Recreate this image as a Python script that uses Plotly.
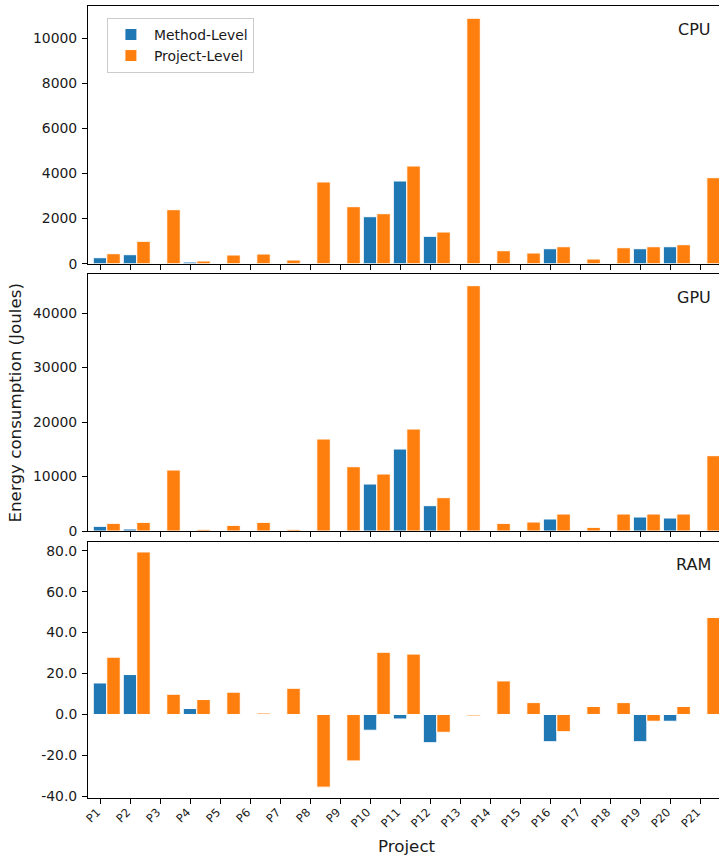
import plotly.graph_objects as go

projects = ["P%d" % i for i in range(1, 22)]

# energy values (Joules)
cpu_method = [266, 400, 0, 75, 0, 0, 0, 0, 0, 2085, 3669, 1216, 0, 0, 0, 665, 0, 0, 665, 754, 0]
cpu_project = [444, 994, 2396, 120, 386, 430, 164, 3625, 2529, 2218, 4334, 1406, 10887, 577, 475, 754, 208, 710, 754, 843, 3815]

gpu_method = [862, 367, 0, 40, 0, 0, 0, 0, 0, 8624, 15046, 4648, 0, 0, 0, 2202, 0, 0, 2569, 2385, 0]
gpu_project = [1413, 1590, 11193, 306, 1040, 1590, 306, 16880, 11800, 10459, 18716, 6116, 45015, 1407, 1651, 3119, 673, 3119, 3119, 3119, 13823]

ram_method = [15.4, 19.5, 0, 2.9, 0, 0, 0, 0, 0, -7.7, -2.2, -13.8, 0, 0, 0, -13.3, 0, 0, -13.3, -3.3, 0]
ram_project = [28.0, 79.4, 9.9, 7.3, 10.9, 0.7, 12.8, -35.5, -22.7, 30.4, 29.5, -8.7, -0.7, 16.4, 5.8, -8.4, 3.9, 5.8, -3.3, 3.9, 47.4]

ram_ticks = [-40, -20, 0, 20, 40, 60, 80]
ram_ticktext = ["%.1f" % v for v in ram_ticks]

BLUE = "#1f77b4"
ORANGE = "#ff7f0e"
FONT = "DejaVu Sans"
TXT = "#1a1a1a"

panels = [
    ("CPU", cpu_method, cpu_project, "x", "y"),
    ("GPU", gpu_method, gpu_project, "x2", "y2"),
    ("RAM", ram_method, ram_project, "x3", "y3"),
]

fig = go.Figure()
for k, (name, meth, proj, xa, ya) in enumerate(panels):
    fig.add_trace(go.Bar(
        x=projects, y=meth, name="Method-Level",
        width=0.45, offset=-0.225,
        marker=dict(color=BLUE, line=dict(color="white", width=1)),
        xaxis=xa, yaxis=ya, showlegend=(k == 0)))
    fig.add_trace(go.Bar(
        x=projects, y=proj, name="Project-Level",
        width=0.45, offset=0.225,
        marker=dict(color=ORANGE, line=dict(color="white", width=1)),
        xaxis=xa, yaxis=ya, showlegend=(k == 0)))

xcommon = dict(
    type="category", categoryorder="array", categoryarray=projects,
    range=[-0.4, 20.63], showline=True, mirror=True, linecolor="black",
    linewidth=1, ticks="outside", ticklen=5, tickcolor="black",
    showgrid=False, zeroline=False)
ycommon = dict(
    showline=True, mirror=False, linecolor="black", linewidth=1,
    ticks="outside", ticklen=5, tickcolor="black", showgrid=False,
    zeroline=False, tickfont=dict(family=FONT, size=13.9, color=TXT),
    ticklabelstandoff=2)

fig.update_layout(
    width=719, height=860,
    margin=dict(l=88, r=0, t=6, b=62),
    paper_bgcolor="white", plot_bgcolor="white",
    barmode="overlay",
    font=dict(family=FONT, color=TXT),
    xaxis=dict(xcommon, anchor="y", showticklabels=False),
    xaxis2=dict(xcommon, anchor="y2", matches="x", showticklabels=False),
    xaxis3=dict(xcommon, anchor="y3", matches="x", tickangle=-45,
                ticklabelstandoff=-3, ticklabelshift=-3,
                tickfont=dict(family=FONT, size=11.5, color=TXT)),
    yaxis=dict(ycommon, domain=[0.6746, 1.0], range=[0, 11430], dtick=2000,
               tickformat="d"),
    yaxis2=dict(ycommon, domain=[0.3371, 0.6616], range=[0, 47160], dtick=10000,
                tickformat="d"),
    yaxis3=dict(ycommon, domain=[0.0, 0.3236], range=[-40.8, 84.4],
                tickmode="array", tickvals=ram_ticks, ticktext=ram_ticktext),
    legend=dict(x=0.03, y=0.9849, xanchor="left", yanchor="top",
                traceorder="normal", bgcolor="rgba(255,255,255,0.8)",
                bordercolor="#cccccc", borderwidth=1, tracegroupgap=0,
                itemwidth=36,
                font=dict(family=FONT, size=13.9, color=TXT)),
)

for name, _, _, xa, ya in panels:
    fig.add_annotation(
        text=name, xref=xa + " domain", yref=ya + " domain",
        x=0.9897, y=0.91, xanchor="right", yanchor="middle",
        showarrow=False, font=dict(family=FONT, size=16, color=TXT))

fig.add_annotation(
    text="Energy consumption (Joules)", textangle=-90,
    xref="paper", yref="y2 domain", x=-0.1157, y=0.5,
    xanchor="center", yanchor="middle", showarrow=False,
    font=dict(family=FONT, size=16.7, color=TXT))
fig.add_annotation(
    text="Project", xref="paper", yref="paper", x=0.505, y=-0.06,
    xanchor="center", yanchor="middle", showarrow=False,
    font=dict(family=FONT, size=16.7, color=TXT))

fig.write_html("out.html", config={"displayModeBar": False},
               post_script="document.body.style.margin='0';"
                           "document.body.style.overflow='hidden';")
